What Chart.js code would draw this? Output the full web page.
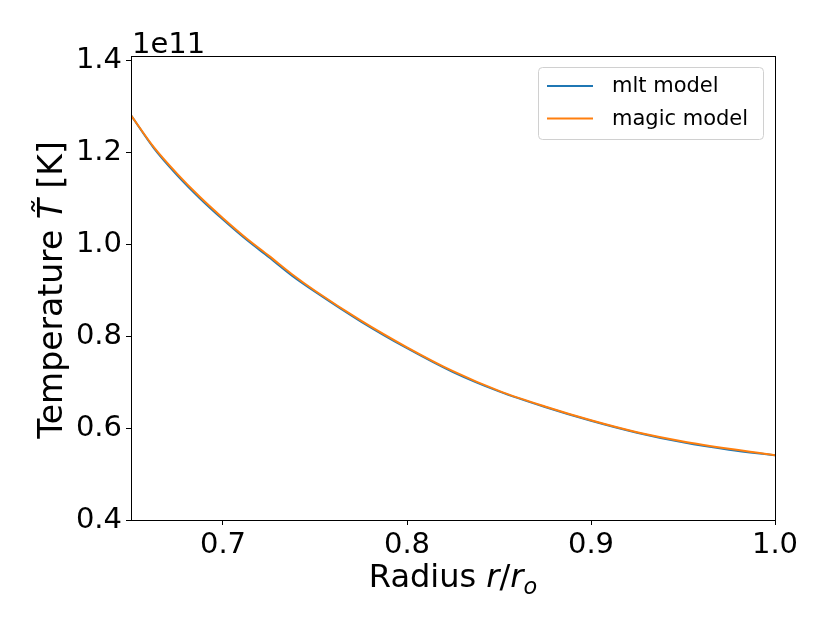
<!DOCTYPE html>
<html>
<head>
<meta charset="utf-8">
<script src="https://cdn.jsdelivr.net/npm/chart.js@4"></script>
<style>
  body { margin: 0; background: #fff; }
  #wrap { width: 830px; height: 623px; position: relative; }
</style>
</head>
<body>
<div id="wrap"><canvas id="temp-chart"></canvas></div>
<script>
// radius r/r_o
var radius = [0.650, 0.6625, 0.675, 0.6875, 0.700, 0.7125, 0.725, 0.7375, 0.750, 0.775, 0.800, 0.825, 0.850, 0.875, 0.900, 0.925, 0.950, 0.975, 1.000];
// temperature, units of 1e11 K
var tempMlt   = [1.281, 1.209, 1.151, 1.100, 1.054, 1.011, 0.972, 0.932, 0.897, 0.832, 0.774, 0.722, 0.680, 0.646, 0.616, 0.590, 0.569, 0.553, 0.541];
var tempMagic = [1.281, 1.211, 1.154, 1.103, 1.057, 1.014, 0.975, 0.935, 0.899, 0.834, 0.776, 0.724, 0.681, 0.647, 0.617, 0.591, 0.571, 0.555, 0.541];
var xTicks = [0.7, 0.8, 0.9, 1.0];
var yTicks = [0.4, 0.6, 0.8, 1.0, 1.2, 1.4];
var offsetText = '1e11';

var FONT = 'DejaVu Sans';

function points(xs, ys){
    return xs.map(function(x, i){ return {x: x, y: ys[i]}; });
}

// draws a list of text parts (some italic / subscript) centred on 0,0
function drawParts(ctx, parts, size){
    var total = 0;
    parts.forEach(function(p){
        var s = p.sub ? size * 0.7 : size;
        ctx.font = (p.italic ? 'italic ' : '') + s + 'px "' + FONT + '"';
        p.w = ctx.measureText(p.t).width;
        total += p.w;
    });
    var x = -total / 2;
    parts.forEach(function(p){
        var s = p.sub ? size * 0.7 : size;
        ctx.font = (p.italic ? 'italic ' : '') + s + 'px "' + FONT + '"';
        ctx.fillText(p.t, x, p.sub ? size * 0.22 : 0);
        x += p.w;
    });
}

var framePlugin = {
    id: 'frame',
    afterDraw: function(chart){
        var ctx = chart.ctx;
        var a = chart.chartArea;
        ctx.save();
        ctx.strokeStyle = '#000';
        ctx.lineWidth = 1;
        ctx.strokeRect(Math.round(a.left) + 0.5, Math.round(a.top) + 0.5,
                       Math.round(a.right - a.left), Math.round(a.bottom - a.top));

        ctx.fillStyle = '#000';
        ctx.textBaseline = 'alphabetic';
        ctx.textAlign = 'left';
        ctx.font = '29px "' + FONT + '"';
        ctx.fillText(offsetText, a.left + 1, a.top - 3);

        // x title
        ctx.save();
        ctx.translate((a.left + a.right) / 2, 587);
        drawParts(ctx, [
            {t: 'Radius '},
            {t: 'r', italic: true},
            {t: '/'},
            {t: 'r', italic: true},
            {t: 'o', italic: true, sub: true}
        ], 32);
        ctx.restore();

        // y title
        ctx.save();
        ctx.translate(62, 290);
        ctx.rotate(-Math.PI / 2);
        drawParts(ctx, [
            {t: 'Temperature '},
            {t: 'T\u0303', italic: true},
            {t: ' [K]'}
        ], 33);
        ctx.restore();

        // legend box
        var bx = 538.5, by = 67.5, bw = 225, bh = 72, r = 4;
        ctx.beginPath();
        ctx.moveTo(bx + r, by);
        ctx.arcTo(bx + bw, by, bx + bw, by + bh, r);
        ctx.arcTo(bx + bw, by + bh, bx, by + bh, r);
        ctx.arcTo(bx, by + bh, bx, by, r);
        ctx.arcTo(bx, by, bx + bw, by, r);
        ctx.closePath();
        ctx.fillStyle = 'rgba(255,255,255,0.8)';
        ctx.fill();
        ctx.strokeStyle = '#d0d0d0';
        ctx.stroke();

        ctx.font = '21px "' + FONT + '"';
        ctx.textBaseline = 'middle';
        chart.data.datasets.forEach(function(ds, i){
            var ly = 86 + i * 32.5;
            ctx.beginPath();
            ctx.moveTo(547, ly);
            ctx.lineTo(593, ly);
            ctx.strokeStyle = ds.borderColor;
            ctx.lineWidth = 2;
            ctx.stroke();
            ctx.fillStyle = '#000';
            ctx.fillText(ds.label, 612, ly + 1);
        });
        ctx.restore();
    }
};

var tickStyle = {
    drawOnChartArea: false,
    drawTicks: true,
    tickLength: 5,
    color: '#000',
    lineWidth: 1
};

new Chart(document.getElementById('temp-chart'), {
    type: 'line',
    data: {
        datasets: [
            {
                label: 'mlt model',
                data: points(radius, tempMlt),
                borderColor: '#1f77b4',
                borderWidth: 2,
                pointRadius: 0,
                cubicInterpolationMode: 'monotone',
                fill: false,
                order: 1
            },
            {
                label: 'magic model',
                data: points(radius, tempMagic),
                borderColor: '#ff7f0e',
                borderWidth: 2,
                pointRadius: 0,
                cubicInterpolationMode: 'monotone',
                fill: false,
                order: 0
            }
        ]
    },
    options: {
        responsive: true,
        maintainAspectRatio: false,
        animation: false,
        layout: { padding: { top: 56, right: 55, left: 0, bottom: 0 } },
        plugins: {
            legend: { display: false },
            tooltip: { enabled: false }
        },
        scales: {
            x: {
                type: 'linear',
                min: 0.65,
                max: 1.0,
                grid: tickStyle,
                border: { display: false },
                afterBuildTicks: function(scale){
                    scale.ticks = xTicks.map(function(v){ return {value: v}; });
                },
                afterFit: function(scale){ scale.height = 103; },
                ticks: {
                    color: '#000',
                    padding: 3,
                    maxRotation: 0,
                    font: { family: FONT, size: 29 },
                    callback: function(v){ return v.toFixed(1); }
                }
            },
            y: {
                type: 'linear',
                min: 0.4,
                max: 1.41,
                grid: tickStyle,
                border: { display: false },
                afterBuildTicks: function(scale){
                    scale.ticks = yTicks.map(function(v){ return {value: v}; });
                },
                afterFit: function(scale){ scale.width = 131; },
                ticks: {
                    color: '#000',
                    padding: 4,
                    font: { family: FONT, size: 29 },
                    callback: function(v){ return v.toFixed(1); }
                }
            }
        }
    },
    plugins: [framePlugin]
});
</script>
</body>
</html>
